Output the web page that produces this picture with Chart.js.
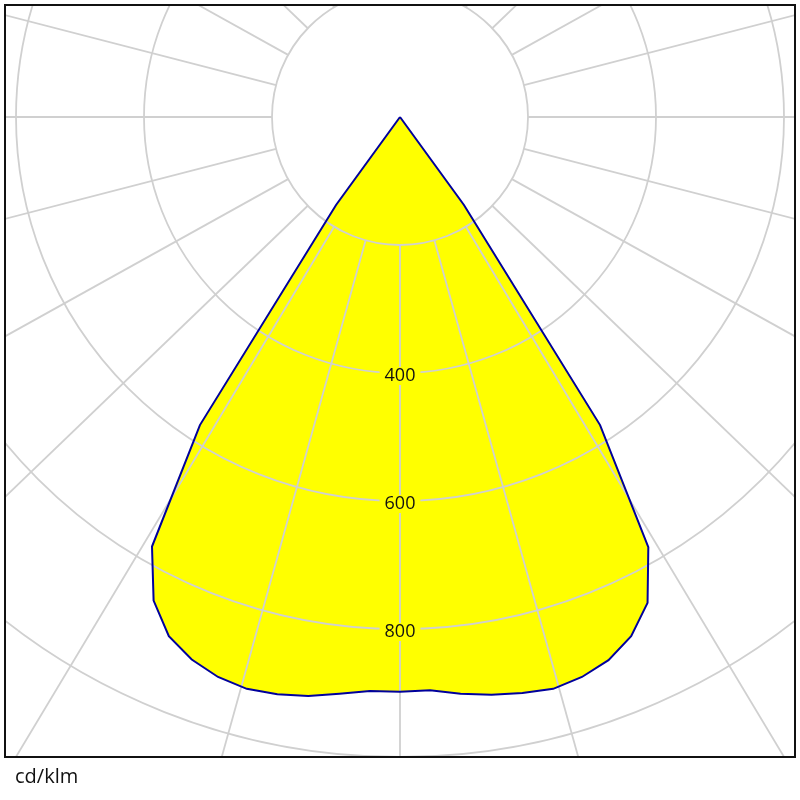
<!DOCTYPE html>
<html>
<head>
<meta charset="utf-8">
<script src="https://cdn.jsdelivr.net/npm/chart.js@4/dist/chart.umd.min.js"></script>
<style>
  html, body { margin: 0; padding: 0; background: #ffffff; }
  #wrap { position: relative; width: 800px; height: 800px; }
  #unit { position: absolute; left: 15px; top: 766px; font-family: "Open Sans", "DejaVu Sans", sans-serif; font-size: 20px; line-height: 20px; color: #111; }
</style>
</head>
<body>
<div id="wrap">
  <canvas id="c" width="800" height="800"></canvas>
  <div id="unit">cd/klm</div>
</div>
<script>
// ---- data ----
const gammaDeg   = [0, 3, 6, 9, 12, 15, 18, 21, 24, 27, 30, 33, 36, 39];
const planeC0    = [898, 897, 906, 914, 920, 925, 920, 909, 888, 852, 776, 574, 170, 0];   // right half
const planeC180  = [898, 898, 906, 916, 922, 925, 920, 908, 888, 848, 775, 574, 170, 0];   // left half
const ringValues = [200, 400, 600, 800, 1000, 1200];
const ringLabels = [400, 600, 800];
const spokeDeg   = [0, 15, 30, 45, 60, 75, 90, 105, 120, 135, 150, 165, 180, 195, 210, 225, 240, 255, 270, 285, 300, 315, 330, 345];

// ---- build closed curve in cartesian value space ----
const rad = d => d * Math.PI / 180;
const curve = [];
for (let i = gammaDeg.length - 1; i >= 0; i--) {
  curve.push({ x: -planeC180[i] * Math.sin(rad(gammaDeg[i])), y: -planeC180[i] * Math.cos(rad(gammaDeg[i])) });
}
for (let i = 0; i < gammaDeg.length; i++) {
  curve.push({ x: planeC0[i] * Math.sin(rad(gammaDeg[i])), y: -planeC0[i] * Math.cos(rad(gammaDeg[i])) });
}

const GRID = '#d0d0d0';
const FILL = '#ffff00';
const SPOKE_Y = 0.962; // slight vertical squash of the spokes seen in the reference

const polarGrid = {
  id: 'polarGrid',
  afterDatasetDraw(chart, args) {
    if (args.index !== 0) return;
    const { ctx, chartArea: a, scales: { x, y } } = chart;
    const cx = x.getPixelForValue(0), cy = y.getPixelForValue(0);
    const px = v => x.getPixelForValue(v) - cx;
    ctx.save();
    ctx.beginPath();
    ctx.rect(a.left, a.top, a.right - a.left, a.bottom - a.top);
    ctx.clip();
    ctx.strokeStyle = GRID;
    ctx.lineWidth = 1.8;
    ringValues.forEach(v => {
      ctx.beginPath();
      ctx.arc(cx, cy, px(v), 0, Math.PI * 2);
      ctx.stroke();
    });
    const r0 = px(ringValues[0]);
    const rEnd = px(3000);
    spokeDeg.forEach(d => {
      let dx = Math.sin(rad(d)), dy = Math.cos(rad(d)) * SPOKE_Y;
      const n = Math.hypot(dx, dy); dx /= n; dy /= n;
      ctx.beginPath();
      ctx.moveTo(cx + dx * r0, cy + dy * r0);
      ctx.lineTo(cx + dx * rEnd, cy + dy * rEnd);
      ctx.stroke();
    });
    ctx.font = '18px "Open Sans", "DejaVu Sans", sans-serif';
    ctx.textAlign = 'center';
    ctx.textBaseline = 'middle';
    ringLabels.forEach(v => {
      const ly = cy + px(v) + 3;
      const w = ctx.measureText(String(v)).width + 10;
      ctx.fillStyle = FILL;
      ctx.fillRect(cx - w / 2, ly - 9, w, 18);
      ctx.fillStyle = '#111111';
      ctx.fillText(String(v), cx, ly);
    });
    ctx.restore();
  },
  afterDraw(chart) {
    const { ctx, chartArea: a } = chart;
    ctx.save();
    ctx.strokeStyle = '#111111';
    ctx.lineWidth = 2;
    ctx.strokeRect(a.left, a.top, a.right - a.left, a.bottom - a.top);
    ctx.restore();
  }
};

const PXU = 0.64; // pixels per cd/klm unit
const areaW = 790, areaTop = 112, areaBottom = 640;

new Chart(document.getElementById('c'), {
  type: 'scatter',
  data: {
    datasets: [
      { data: curve, showLine: true, fill: 'shape', backgroundColor: FILL, borderWidth: 0, pointRadius: 0, tension: 0, order: 2 },
      { data: curve, showLine: true, fill: false, borderColor: '#00009c', borderWidth: 2, pointRadius: 0, tension: 0, order: 1 }
    ]
  },
  options: {
    responsive: false,
    animation: false,
    events: [],
    layout: { padding: { left: 5, top: 5, right: 5, bottom: 43 } },
    plugins: { legend: { display: false }, tooltip: { enabled: false } },
    scales: {
      x: { type: 'linear', display: false, min: -areaW / 2 / PXU, max: areaW / 2 / PXU },
      y: { type: 'linear', display: false, min: -areaBottom / PXU, max: areaTop / PXU }
    }
  },
  plugins: [polarGrid]
});
</script>
</body>
</html>
